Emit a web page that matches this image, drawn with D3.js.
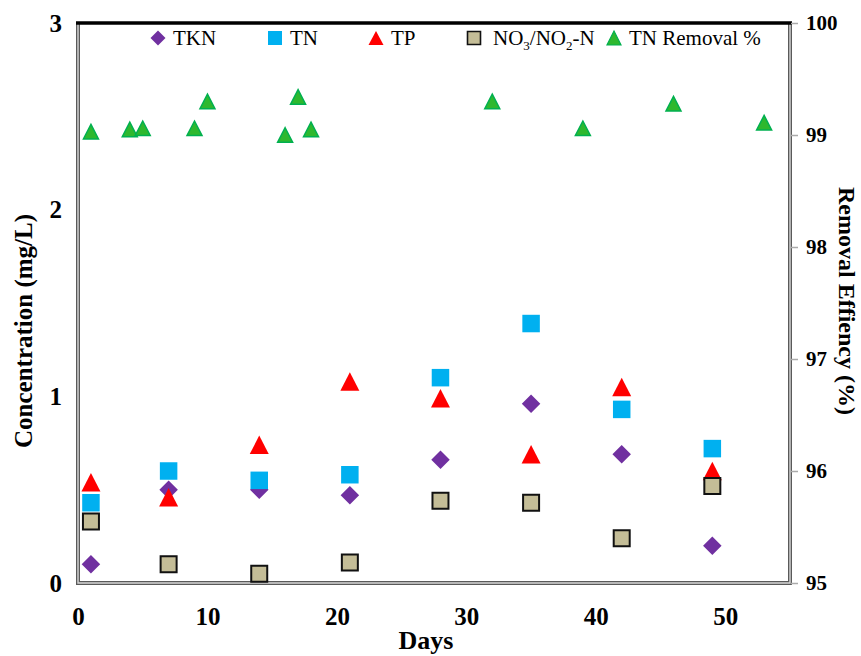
<!DOCTYPE html>
<html>
<head>
<meta charset="utf-8">
<script src="https://cdn.jsdelivr.net/npm/d3@7"></script>
<style>
  html, body { margin: 0; padding: 0; background: #fff; }
  svg { display: block; }
  text { font-family: "Liberation Serif", "Times New Roman", serif; }
</style>
</head>
<body>
<svg id="chart" width="861" height="656"></svg>
<script>
// ---- data ----
const days = [1, 7, 14, 21, 28, 35, 42, 49];
const tkn  = [0.10, 0.50, 0.50, 0.47, 0.66, 0.96, 0.69, 0.20];
const tn   = [0.43, 0.60, 0.55, 0.58, 1.10, 1.39, 0.93, 0.72];
const tp   = [0.54, 0.46, 0.74, 1.08, 0.99, 0.69, 1.05, 0.60];
const no3  = [0.33, 0.10, 0.05, 0.11, 0.44, 0.43, 0.24, 0.52];
const removalDays = [1, 4, 5, 9, 10, 16, 17, 18, 32, 39, 46, 53];
const removal     = [99.03, 99.05, 99.06, 99.06, 99.30, 99.00, 99.34, 99.05, 99.30, 99.06, 99.28, 99.11];
const xTicks = [0, 10, 20, 30, 40, 50];
const yTicks = [0, 1, 2, 3];
const y2Ticks = [95, 96, 97, 98, 99, 100];

// ---- layout ----
const L = 78, R = 790, T = 23, B = 583;
const svg = d3.select("#chart");

const x = d3.scaleLinear().domain([0, 55]).range([L, R]);
const y = d3.scaleLinear().domain([0, 3]).range([B, T]);
const y2 = d3.scaleLinear().domain([95, 100]).range([B, T]);

// ---- frame ----
function dbl(path) {
  svg.append("path").attr("d", path).attr("fill", "none").attr("stroke", "#5a5a5a").attr("stroke-width", 4);
  svg.append("path").attr("d", path).attr("fill", "none").attr("stroke", "#d8d8d8").attr("stroke-width", 1.4);
}
dbl(`M${L},${T} L${L},${B} L${R},${B} L${R},${T}`);
svg.append("line").attr("x1", L - 2).attr("x2", R + 2).attr("y1", T).attr("y2", T)
  .attr("stroke", "#000").attr("stroke-width", 3.4);

// ---- axes ----
const gx = svg.append("g").attr("transform", `translate(0,${B})`)
  .call(d3.axisBottom(x).tickValues(xTicks).tickSize(0).tickPadding(24).tickFormat(d3.format("d")));
const gy = svg.append("g").attr("transform", `translate(${L},0)`)
  .call(d3.axisLeft(y).tickValues(yTicks).tickSize(0).tickPadding(16).tickFormat(d3.format("d")));
const gy2 = svg.append("g").attr("transform", `translate(${R + 1},0)`)
  .call(d3.axisRight(y2).tickValues(y2Ticks).tickSize(7).tickPadding(8).tickFormat(d3.format("d")));
[gx, gy, gy2].forEach(g => {
  g.select(".domain").remove();
  g.attr("font-family", "Liberation Serif, serif");
  g.selectAll("text").attr("font-family", "Liberation Serif, serif").attr("font-weight", "bold").attr("fill", "#000");
});
gx.selectAll("text").attr("font-size", 25);
gy.selectAll("text").attr("font-size", 25);
gy2.selectAll("text").attr("font-size", 21);
gy2.selectAll("line").attr("stroke", "#aaa").attr("stroke-width", 1.5);

// ---- axis titles ----
svg.append("text").attr("x", (L + R) / 2 - 8).attr("y", 649).attr("text-anchor", "middle")
  .attr("font-size", 26).attr("font-weight", "bold").text("Days");
svg.append("text").attr("transform", `translate(32,${331}) rotate(-90)`).attr("text-anchor", "middle")
  .attr("font-size", 25).attr("font-weight", "bold").text("Concentration (mg/L)");
svg.append("text").attr("transform", `translate(839,${301}) rotate(90)`).attr("text-anchor", "middle")
  .attr("font-size", 24).attr("font-weight", "bold").text("Removal Effiency (%)");

// ---- marker shapes ----
const diamond = s => `M0,${-s/2}L${s/2},0L0,${s/2}L${-s/2},0Z`;
const tri = (w, h) => `M0,${-h/2}L${w/2},${h/2}L${-w/2},${h/2}Z`;
const sq = s => `M${-s/2},${-s/2}h${s}v${s}h${-s}Z`;

function series(xs, vs, ys, shape, fill, stroke, sw) {
  svg.append("g").selectAll("path").data(xs.map((d, i) => [d, vs[i]])).join("path")
    .attr("transform", d => `translate(${x(d[0])},${ys(d[1])})`)
    .attr("d", shape).attr("fill", fill)
    .attr("stroke", stroke).attr("stroke-width", sw);
}
const C = { tkn: "#7030a0", tn: "#00b0f0", tp: "#ff0000", no3: "#c4bd97", rem: "#2eb82e" };
series(days, tkn, y, diamond(18.5), C.tkn, "none", 0);
series(days, tn, y, sq(17.5), C.tn, "none", 0);
series(days, tp, y, tri(19, 18.5), C.tp, "none", 0);
series(days, no3, y, sq(16), C.no3, "#111", 2);
series(removalDays, removal, y2, tri(15, 14.5), C.rem, "#00b050", 1.5);

// ---- legend ----
const leg = svg.append("g").attr("font-size", 21).attr("fill", "#000");
const ly = 38;
function legItem(cx, shape, fill, stroke, sw, tx, label) {
  leg.append("path").attr("transform", `translate(${cx},${ly})`).attr("d", shape)
    .attr("fill", fill).attr("stroke", stroke).attr("stroke-width", sw);
  return leg.append("text").attr("x", tx).attr("y", ly + 7).text(label);
}
legItem(158, diamond(15), C.tkn, "none", 0, 173, "TKN");
legItem(275, sq(14), C.tn, "none", 0, 290, "TN");
legItem(376, tri(15, 14), C.tp, "none", 0, 391, "TP");
const t4 = legItem(474, sq(13), C.no3, "#111", 1.6, 493, "NO");
t4.append("tspan").attr("font-size", 13).attr("dy", 5).text("3");
t4.append("tspan").attr("dy", -5).text("/NO");
t4.append("tspan").attr("font-size", 13).attr("dy", 5).text("2");
t4.append("tspan").attr("dy", -5).text("-N");
legItem(614, tri(14, 14), C.rem, "#00b050", 1.2, 629, "TN Removal %");
</script>
</body>
</html>
